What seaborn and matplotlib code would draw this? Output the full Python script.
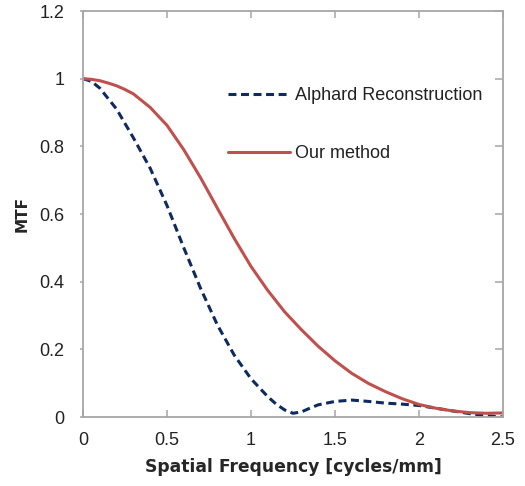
import matplotlib
matplotlib.use("Agg")
import matplotlib.pyplot as plt
import seaborn as sns
import pandas as pd

freq_red = [0.0, 0.05, 0.1, 0.15, 0.2, 0.25, 0.3, 0.4, 0.5, 0.6, 0.7, 0.8, 0.9, 1.0,
            1.1, 1.2, 1.3, 1.4, 1.5, 1.6, 1.7, 1.8, 1.9, 2.0, 2.1, 2.2, 2.3, 2.4, 2.5]
mtf_ours = [1.0, 0.998, 0.994, 0.987, 0.979, 0.968, 0.955, 0.915, 0.862, 0.79,
            0.707, 0.617, 0.528, 0.445, 0.374, 0.311, 0.258, 0.209, 0.166, 0.129,
            0.099, 0.075, 0.054, 0.037, 0.026, 0.018, 0.013, 0.011, 0.012]

freq_blue = [0.0, 0.05, 0.1, 0.2, 0.3, 0.4, 0.5, 0.6, 0.7, 0.8, 0.9, 1.0, 1.1, 1.15,
             1.2, 1.25, 1.3, 1.35, 1.4, 1.5, 1.6, 1.7, 1.8, 1.9, 2.0, 2.1, 2.2, 2.3,
             2.4, 2.5]
mtf_alphard = [1.0, 0.992, 0.972, 0.91, 0.825, 0.735, 0.625, 0.5, 0.38, 0.272,
               0.183, 0.113, 0.06, 0.038, 0.021, 0.011, 0.015, 0.026, 0.036, 0.046,
               0.05, 0.046, 0.041, 0.038, 0.034, 0.026, 0.018, 0.01, 0.004, 0.0]

label_alphard = "Alphard Reconstruction"
label_ours = "Our method"
x_ticks = [0, 0.5, 1, 1.5, 2, 2.5]
x_tick_labels = ["0", "0.5", "1", "1.5", "2", "2.5"]
y_ticks = [0, 0.2, 0.4, 0.6, 0.8, 1.0, 1.2]
y_tick_labels = ["0", "0.2", "0.4", "0.6", "0.8", "1", "1.2"]

sns.set_style("white")
plt.rcParams['font.family'] = ['Liberation Sans', 'DejaVu Sans']

fig = plt.figure(figsize=(5.25, 4.86), dpi=100)
ax = fig.add_axes([83/525, 1-417/486, 420/525, 406/486])

df_b = pd.DataFrame({"f": freq_blue, "m": mtf_alphard})
df_r = pd.DataFrame({"f": freq_red, "m": mtf_ours})

sns.lineplot(data=df_b, x="f", y="m", ax=ax, color="#0f2a5e", linewidth=2.2,
             linestyle=(0, (2.6, 1.5)), label=label_alphard)
sns.lineplot(data=df_r, x="f", y="m", ax=ax, color="#c0504d", linewidth=2.2,
             label=label_ours)

ax.set_xlim(0, 2.5)
ax.set_ylim(0, 1.2)
ax.set_xticks(x_ticks)
ax.set_xticklabels(x_tick_labels)
ax.set_yticks(y_ticks)
ax.set_yticklabels(y_tick_labels)

spine_col = "#a6a6a6"
for s in ax.spines.values():
    s.set_visible(True)
    s.set_color(spine_col)
    s.set_linewidth(1.3)

ax.tick_params(axis='x', direction='in', length=5, width=1.1, color=spine_col,
               top=True, bottom=True, labelsize=13, pad=11, labelcolor="#222222")
ax.tick_params(axis='y', direction='out', length=2.5, width=1.1, color=spine_col,
               left=True, right=False, labelsize=13, pad=11, labelcolor="#222222")

ax2 = ax.twinx()
ax2.set_ylim(0, 1.2)
ax2.set_yticks(y_ticks)
ax2.tick_params(axis='y', direction='in', length=5.5, width=1.1, color=spine_col,
                labelright=False, right=True)
for s in ax2.spines.values():
    s.set_visible(False)

ax.set_xlabel("Spatial Frequency [cycles/mm]", fontsize=12.3, fontweight='bold',
              family='DejaVu Sans', labelpad=6)
ax.set_ylabel("MTF", fontsize=11, fontweight='bold', family='DejaVu Sans', labelpad=7)

ax.legend(frameon=False, loc='upper left', bbox_to_anchor=(0.345, 0.812),
          borderpad=0, borderaxespad=0, handlelength=3.45, handletextpad=0.25,
          labelspacing=2.27, fontsize=13, labelcolor="#222222")

fig.savefig("out.png", dpi=100)
